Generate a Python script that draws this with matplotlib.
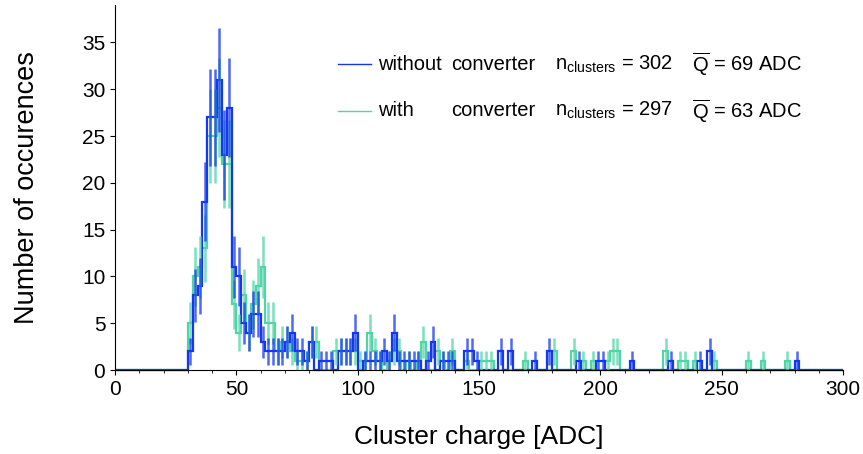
import matplotlib
matplotlib.use('Agg')

import matplotlib.pyplot as plt
import numpy as np
from matplotlib.lines import Line2D
from matplotlib.ticker import MultipleLocator

plt.rcParams['font.family'] = ['Liberation Sans', 'DejaVu Sans']
plt.rcParams['mathtext.fontset'] = 'custom'
plt.rcParams['mathtext.rm'] = 'Liberation Sans'

# Histogramm: Bins zu 2 ADC, gefuellte Bins von 30 bis 280 ADC
bin_width = 2
first_bin = 30

counts_without = [
    2, 8, 9, 18, 27, 27, 31, 23, 28, 11, 10,
    5, 4, 6, 6, 3, 2, 2, 2, 2, 3, 4, 2, 2, 1, 3, 0,
    1, 1, 1, 0, 2, 2, 2, 4,
    0, 1, 1, 1, 1, 2, 1, 4, 1, 1, 1, 1, 1,
    0, 1, 3, 0, 1, 1, 1, 0, 0, 2, 2, 1,
    0, 0, 0, 0, 2, 0, 2, 0, 0, 0, 0, 1, 0, 0, 2, 0, 0, 0, 0, 0,
    1, 0, 0, 0, 1, 1, 0, 0, 0, 0, 0, 1, 0, 0, 0, 0, 0, 0, 0, 1,
    0, 0, 0, 0, 0, 1, 0, 2, 0, 0, 0, 0, 0, 0, 0, 0, 0, 0, 0, 0,
    0, 0, 0, 0, 0, 1,
]

counts_with = [
    5, 10, 11, 13, 25, 25, 28, 22, 22, 7, 4,
    8, 4, 7, 9, 11, 5, 5, 2, 3, 3, 2, 1, 1, 1, 3, 3,
    0, 0, 0, 2, 2, 2, 2, 2,
    1, 1, 4, 2, 1, 0, 1, 2, 2, 0, 1, 0, 1,
    3, 0, 0, 2, 1, 0, 2, 0, 0, 1, 0, 0,
    1, 1, 1, 0, 0, 0, 0, 0, 0, 1, 0, 0, 0, 0, 0, 2, 0, 0, 0, 2,
    0, 1, 0, 1, 0, 0, 1, 2, 2, 0, 0, 0, 0, 0, 0, 0, 0, 0, 2, 0,
    0, 1, 1, 0, 1, 0, 0, 0, 1, 0, 0, 0, 0, 0, 0, 1, 0, 0, 1, 0,
    0, 0, 0, 1, 0, 0,
]

labels_a = ['without', 'with']
n_clusters = [302, 297]
mean_charge = [69, 63]
colors = ['#1437f0', '#4fd6a4']

edges = np.arange(0, 300 + bin_width, bin_width)


def full_hist(counts):
    h = np.zeros(len(edges) - 1)
    i0 = first_bin // bin_width
    h[i0:i0 + len(counts)] = counts
    return h


fig = plt.figure(figsize=(8.63, 4.54), dpi=100)
ax = fig.add_axes([0.1333, 0.185, 0.8436, 0.804])

centers = 0.5 * (edges[:-1] + edges[1:])
for counts, col in [(counts_with, colors[1]), (counts_without, colors[0])]:
    h = full_hist(counts)
    nz = h > 0
    ax.errorbar(centers[nz], h[nz], yerr=np.sqrt(h[nz]), fmt='none',
                ecolor=col, elinewidth=1.8, alpha=0.75, capsize=0)
    ax.stairs(h, edges, color=col, lw=1.6, clip_on=False)

ax.set_xlim(0, 300)
ax.set_ylim(0, 39)
ax.xaxis.set_major_locator(MultipleLocator(50))
ax.xaxis.set_minor_locator(MultipleLocator(10))
ax.yaxis.set_major_locator(MultipleLocator(5))
ax.spines['top'].set_visible(False)
ax.spines['right'].set_visible(False)
ax.tick_params(labelsize=15, direction='out')
ax.set_xlabel('Cluster charge [ADC]', fontsize=19, labelpad=19)
ax.set_ylabel('Number of occurences', fontsize=19.5, labelpad=30)

# Legende von Hand, damit die Spalten ausgerichtet sind
rows_y = [0.838, 0.710]
for i in range(2):
    y = rows_y[i]
    ax.add_line(Line2D([0.306, 0.352], [y, y], transform=ax.transAxes,
                       color=colors[i], lw=1.0))
    ax.text(0.361, y, labels_a[i], transform=ax.transAxes, fontsize=14.5,
            va='center')
    ax.text(0.4615, y, 'converter', transform=ax.transAxes, fontsize=14.5,
            va='center')
    ax.text(0.604, y, r'n$_{\mathrm{clusters}}$ = %d' % n_clusters[i],
            transform=ax.transAxes, fontsize=14.5, va='center')
    ax.text(0.793, y, r'$\overline{\mathrm{Q}}$ = %d ADC' % mean_charge[i],
            transform=ax.transAxes, fontsize=14.5, va='center')

fig.savefig('out.png', dpi=100)
